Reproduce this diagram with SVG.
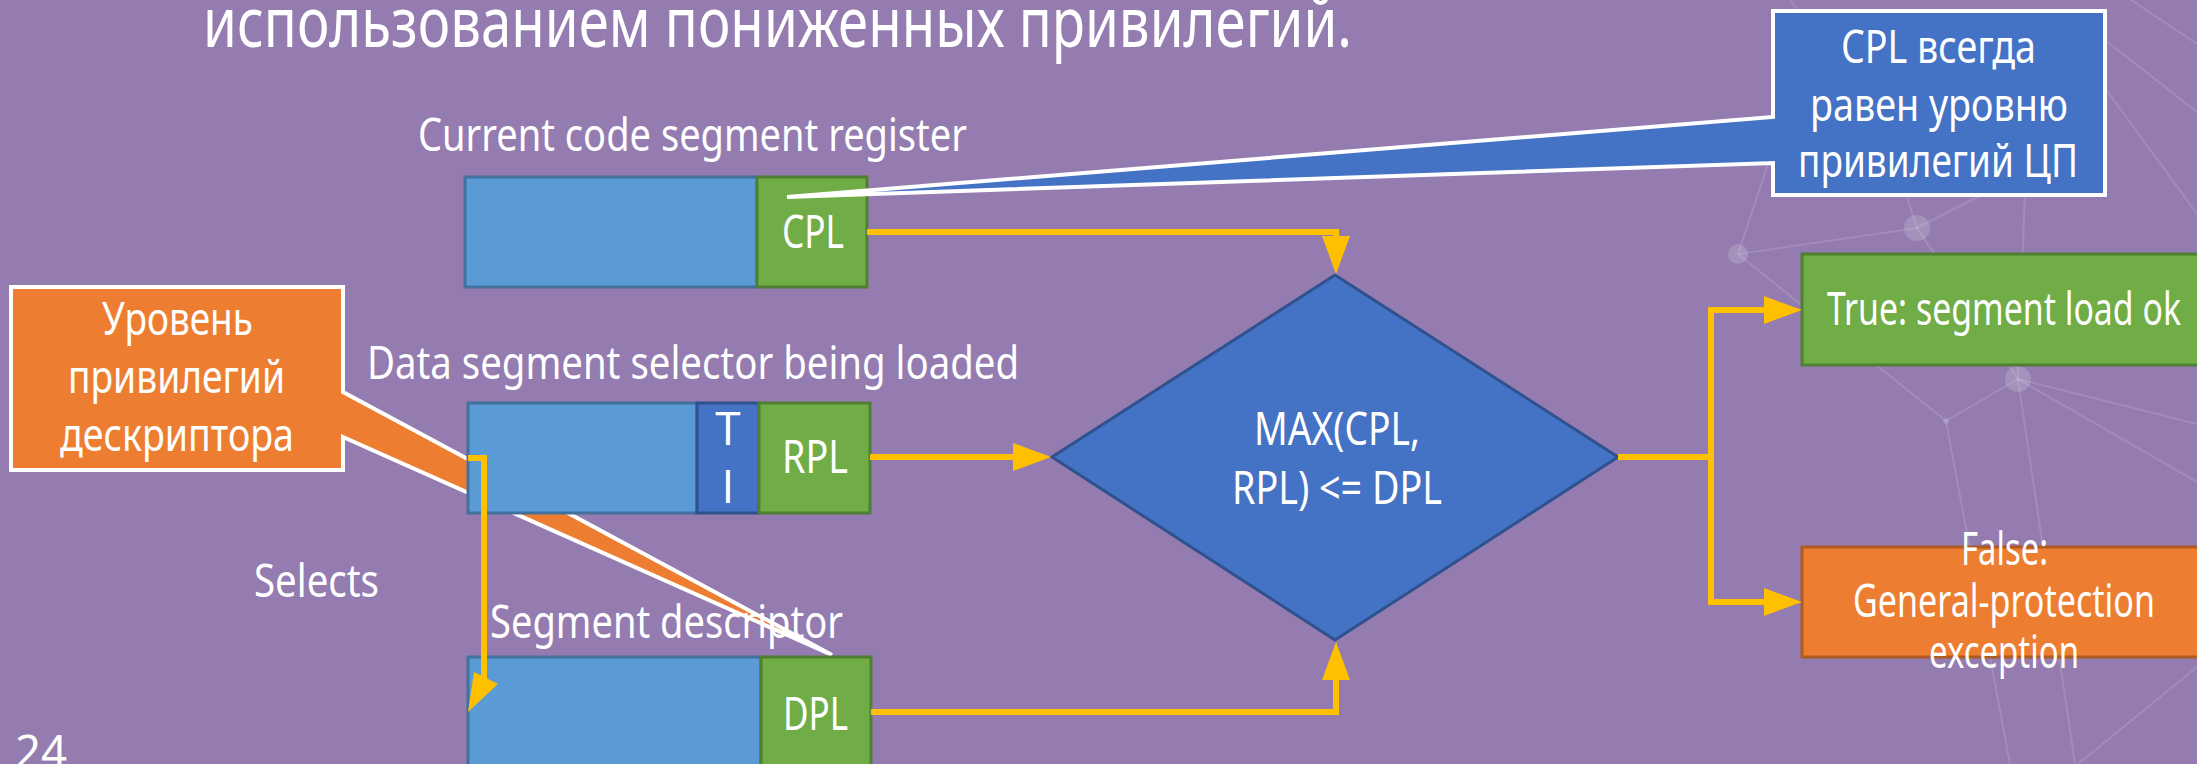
<svg xmlns="http://www.w3.org/2000/svg" width="2197" height="764" viewBox="0 0 2197 764">
  <defs>
    <style>
      .bg { fill: #947cb0; }
      .net line { stroke: #ffffff; stroke-opacity: 0.13; stroke-width: 2; }
      .net circle { fill: #ffffff; fill-opacity: 0.16; }
      .t { font-family: "Noto Sans", "Open Sans", "DejaVu Sans", sans-serif; font-size: 46px; fill: #ffffff; }
      .plain { font-family: "Open Sans", "Liberation Sans", sans-serif; }
      .title { font-size: 69px; }
      .reg { fill: #5b9bd5; stroke: #41719c; stroke-width: 3; }
      .lvl { fill: #70ad47; stroke: #507e32; stroke-width: 3; }
      .ti { fill: #4472c4; stroke: #2f528f; stroke-width: 3; }
      .dec { fill: #4472c4; stroke: #2f528f; stroke-width: 3; }
      .ok { fill: #70ad47; stroke: #507e32; stroke-width: 3; }
      .err { fill: #ed7d31; stroke: #ae5a21; stroke-width: 3; }
      .callout-b { fill: #4472c4; stroke: #ffffff; stroke-width: 4; stroke-linejoin: miter; }
      .callout-o { fill: #ed7d31; stroke: #ffffff; stroke-width: 4; stroke-linejoin: miter; }
      .wire { fill: none; stroke: #ffc000; stroke-width: 6; }
      .head { fill: #ffc000; }
    </style>
    <marker id="arrow" markerUnits="userSpaceOnUse" viewBox="0 0 38 28" refX="1" refY="14" markerWidth="38" markerHeight="28" orient="auto">
      <path d="M0,0 L38,14 L0,28 Z" fill="#ffc000"/>
    </marker>
  </defs>

  <!-- slide background -->
  <rect class="bg" x="0" y="0" width="2197" height="764"/>

  <!-- faint network ornament -->
  <g id="network" class="net">
    <line x1="1738" y1="254" x2="1917" y2="228"/>
    <line x1="1738" y1="254" x2="1946" y2="421"/>
    <line x1="1738" y1="254" x2="1776" y2="140"/>
    <line x1="1917" y1="228" x2="1895" y2="160"/>
    <line x1="1917" y1="228" x2="2018" y2="379"/>
    <line x1="1917" y1="228" x2="2030" y2="170"/>
    <line x1="2018" y1="379" x2="1946" y2="421"/>
    <line x1="2018" y1="379" x2="2197" y2="424"/>
    <line x1="2018" y1="379" x2="2197" y2="482"/>
    <line x1="2018" y1="379" x2="2025" y2="190"/>
    <line x1="2018" y1="379" x2="2075" y2="764"/>
    <line x1="1946" y1="421" x2="2010" y2="764"/>
    <line x1="2105" y1="40" x2="2197" y2="112"/>
    <line x1="2131" y1="0" x2="2197" y2="44"/>
    <line x1="2105" y1="88" x2="2197" y2="214"/>
    <line x1="2197" y1="667" x2="2078" y2="764"/>
    <line x1="1790" y1="0" x2="1800" y2="12"/>
    <circle cx="1738" cy="254" r="10"/>
    <circle cx="1917" cy="228" r="13"/>
    <circle cx="2018" cy="379" r="13"/>
    <circle cx="1946" cy="421" r="3"/>
  </g>

  <!-- slide heading, last line -->
  <text class="t title" x="203" y="47" textLength="1149" lengthAdjust="spacingAndGlyphs">использованием пониженных привилегий.</text>

  <!-- descriptor-privilege callout (sits under the selector register) -->
  <g id="callout-dpl">
    <path class="callout-o" d="M11,287 H343 V392 L832,655 L343,437 V470 H11 Z"/>
    <text class="t" x="102" y="335" textLength="151" lengthAdjust="spacingAndGlyphs">Уровень</text>
    <text class="t" x="68" y="393" textLength="217" lengthAdjust="spacingAndGlyphs">привилегий</text>
    <text class="t" x="60" y="451" textLength="234" lengthAdjust="spacingAndGlyphs">дескриптора</text>
  </g>

  <!-- current code segment register -->
  <g id="cs-register">
    <text class="t" x="418" y="151" textLength="549" lengthAdjust="spacingAndGlyphs">Current code segment register</text>
    <rect class="reg" x="465" y="177" width="292" height="110"/>
    <rect class="lvl" x="757" y="177" width="110" height="110"/>
    <text class="t" x="782" y="248" textLength="62" lengthAdjust="spacingAndGlyphs">CPL</text>
  </g>

  <!-- data segment selector -->
  <g id="selector">
    <text class="t" x="367" y="379" textLength="652" lengthAdjust="spacingAndGlyphs">Data segment selector being loaded</text>
    <rect class="reg" x="468" y="403" width="229" height="110"/>
    <rect class="ti" x="697" y="403" width="62" height="110"/>
    <rect class="lvl" x="759" y="403" width="111" height="110"/>
    <text class="t plain" x="728" y="445" text-anchor="middle">T</text>
    <text class="t plain" x="728" y="503" text-anchor="middle">I</text>
    <text class="t" x="782" y="473" textLength="66" lengthAdjust="spacingAndGlyphs">RPL</text>
  </g>

  <!-- segment descriptor -->
  <g id="descriptor">
    <text class="t" x="490" y="638" textLength="353" lengthAdjust="spacingAndGlyphs">Segment descriptor</text>
    <rect class="reg" x="468" y="657" width="293" height="160"/>
    <rect class="lvl" x="761" y="657" width="110" height="160"/>
    <text class="t" x="783" y="730" textLength="65" lengthAdjust="spacingAndGlyphs">DPL</text>
  </g>

  <text id="selects-label" class="t" x="254" y="597" textLength="125" lengthAdjust="spacingAndGlyphs">Selects</text>

  <!-- privilege check -->
  <g id="check">
    <path class="dec" d="M1335,275 L1618,457 L1335,640 L1052,457 Z"/>
    <text class="t" x="1254" y="445" textLength="166" lengthAdjust="spacingAndGlyphs">MAX(CPL,</text>
    <text class="t" x="1232" y="504" textLength="210" lengthAdjust="spacingAndGlyphs">RPL) &lt;= DPL</text>
  </g>

  <!-- outcomes -->
  <g id="result-ok">
    <rect class="ok" x="1802" y="254" width="410" height="111"/>
    <text class="t" x="1827" y="325" textLength="354" lengthAdjust="spacingAndGlyphs">True: segment load ok</text>
  </g>
  <g id="result-fault">
    <rect class="err" x="1802" y="547" width="410" height="110"/>
    <text class="t" x="1961" y="565" textLength="87" lengthAdjust="spacingAndGlyphs">False:</text>
    <text class="t" x="1853" y="617" textLength="302" lengthAdjust="spacingAndGlyphs">General-protection</text>
    <text class="t" x="1929" y="668" textLength="150" lengthAdjust="spacingAndGlyphs">exception</text>
  </g>

  <!-- connectors -->
  <g id="connectors">
    <path class="wire" d="M867,232 H1336 V237" marker-end="url(#arrow)"/>
    <path class="wire" d="M870,457 H1014" marker-end="url(#arrow)"/>
    <path class="wire" d="M871,712 H1336 V679" marker-end="url(#arrow)"/>
    <path class="wire" d="M1618,457 H1711"/>
    <path class="wire" d="M1711,307 V605"/>
    <path class="wire" d="M1708,310 H1765" marker-end="url(#arrow)"/>
    <path class="wire" d="M1708,602 H1765" marker-end="url(#arrow)"/>
    <path class="wire" d="M468,458 H484 V680"/>
    <polygon class="head" points="474,672 498,684 468,712"/>
  </g>

  <!-- CPL callout drawn over the code segment register -->
  <g id="callout-cpl">
    <path class="callout-b" d="M1773,11 H2105 V195 H1773 V163 L787,197 L1773,117 Z"/>
    <text class="t" x="1841" y="63" textLength="195" lengthAdjust="spacingAndGlyphs">CPL всегда</text>
    <text class="t" x="1810" y="121" textLength="258" lengthAdjust="spacingAndGlyphs">равен уровню</text>
    <text class="t" x="1798" y="177" textLength="280" lengthAdjust="spacingAndGlyphs">привилегий ЦП</text>
  </g>

  <!-- slide number -->
  <text class="t" x="15" y="768" font-size="58" textLength="52" lengthAdjust="spacingAndGlyphs">24</text>
</svg>
